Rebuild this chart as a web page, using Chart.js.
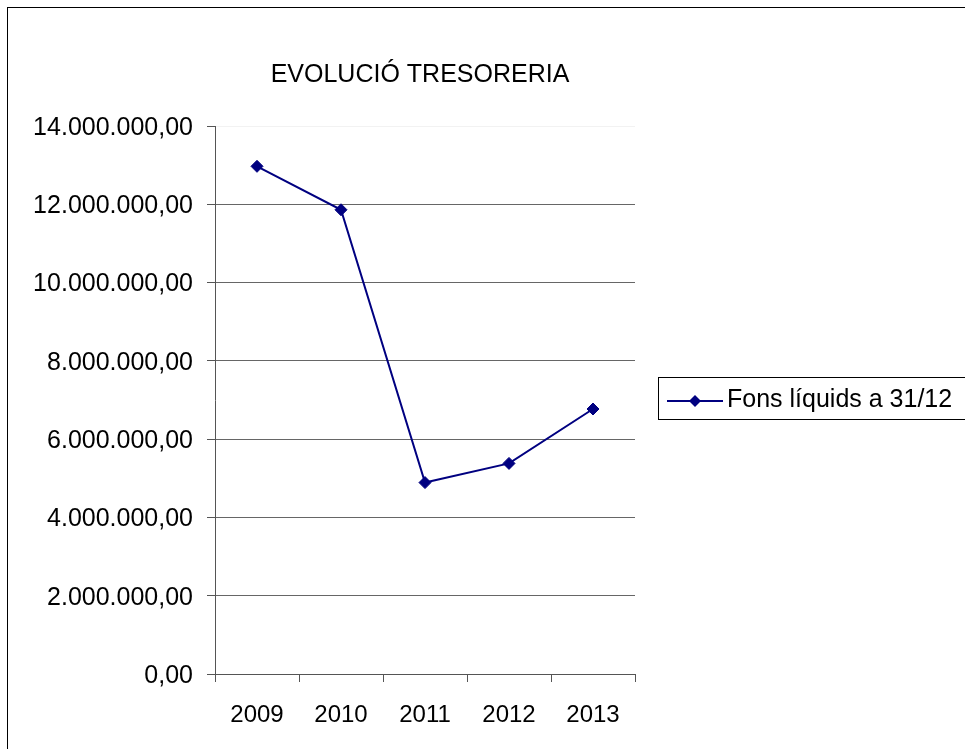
<!DOCTYPE html>
<html>
<head>
<meta charset="utf-8">
<title>Evolució tresoreria</title>
<script src="https://cdn.jsdelivr.net/npm/chart.js@4/dist/chart.umd.min.js"></script>
<style>
  html, body { margin: 0; padding: 0; background: #fff; }
  #grafico { display: block; }
</style>
</head>
<body>
<canvas id="grafico" width="965" height="749"></canvas>
<script>
// dades
const anys = ['2009', '2010', '2011', '2012', '2013'];
const fonsLiquids = [12970000, 11860000, 4890000, 5380000, 6770000];
const ticksY = [0, 2000000, 4000000, 6000000, 8000000, 10000000, 12000000, 14000000];
const titol = 'EVOLUCIÓ TRESORERIA';
const nomSerie = 'Fons líquids a 31/12';

const blauMari = '#000080';
const lletra = '"Liberation Sans", Arial, sans-serif';

// 14000000 -> "14.000.000,00"
function formata(v) {
    const enter = Math.round(v).toString().replace(/\B(?=(\d{3})+(?!\d))/g, '.');
    return enter + ',00';
}

// títol, marc exterior i llegenda tipus Excel
const marcILlegenda = {
    id: 'marcILlegenda',
    afterDraw(chart) {
        const ctx = chart.ctx;
        ctx.save();
        ctx.strokeStyle = '#000';
        ctx.lineWidth = 1;
        ctx.strokeRect(7.5, 7.5, 1000, 800);

        // títol
        ctx.fillStyle = '#000';
        ctx.font = '25px ' + lletra;
        ctx.textAlign = 'center';
        ctx.textBaseline = 'alphabetic';
        ctx.fillText(titol, 420, 82);

        // caixa de la llegenda
        ctx.strokeRect(658.5, 377.5, 340, 42);
        const ds = chart.data.datasets[0];
        ctx.strokeStyle = ds.borderColor;
        ctx.lineWidth = 2;
        ctx.beginPath();
        ctx.moveTo(667, 401);
        ctx.lineTo(723, 401);
        ctx.stroke();
        ctx.fillStyle = ds.pointBackgroundColor;
        ctx.beginPath();
        ctx.moveTo(695, 395);
        ctx.lineTo(701, 401);
        ctx.lineTo(695, 407);
        ctx.lineTo(689, 401);
        ctx.closePath();
        ctx.fill();

        ctx.fillStyle = '#000';
        ctx.textAlign = 'left';
        ctx.fillText(ds.label, 727, 407);
        ctx.restore();
    }
};

window.onload = () => {
    const ctx = document.getElementById('grafico').getContext('2d');

    new Chart(ctx, {
        type: 'line',
        data: {
            labels: anys,
            datasets: [{
                label: nomSerie,
                data: fonsLiquids,
                borderColor: blauMari,
                backgroundColor: blauMari,
                pointBackgroundColor: blauMari,
                pointBorderColor: blauMari,
                borderWidth: 2,
                pointStyle: 'rectRot',
                pointRadius: 6,
                pointBorderWidth: 1,
                tension: 0
            }]
        },
        options: {
            responsive: false,
            animation: false,
            events: [],
            layout: {
                padding: { left: 0, right: 330, top: 126, bottom: 0 }
            },
            plugins: {
                legend: { display: false },
                tooltip: { enabled: false },
                title: { display: false }
            },
            scales: {
                x: {
                    offset: true,
                    afterFit(scale) {
                        scale.height = 75;
                    },
                    grid: {
                        offset: true,
                        drawOnChartArea: false,
                        drawTicks: true,
                        tickLength: 8,
                        color: '#555',
                        tickColor: '#555'
                    },
                    border: { color: '#555', width: 1 },
                    ticks: {
                        color: '#000',
                        padding: 19,
                        font: { family: lletra, size: 24 }
                    }
                },
                y: {
                    min: 0,
                    max: 14000000,
                    afterBuildTicks(scale) {
                        scale.ticks = ticksY.map(v => ({ value: v }));
                    },
                    afterFit(scale) {
                        scale.width = 215;
                    },
                    grid: {
                        tickLength: 8,
                        color: (c) => c.tick && c.tick.value === 14000000 ? '#f2f2f2' : '#666',
                        tickColor: '#555'
                    },
                    border: { color: '#555', width: 1 },
                    ticks: {
                        color: '#000',
                        padding: 14,
                        labelOffset: 2,
                        font: { family: lletra, size: 25 },
                        callback: (v) => formata(v)
                    }
                }
            }
        },
        plugins: [marcILlegenda]
    });
};
</script>
</body>
</html>
